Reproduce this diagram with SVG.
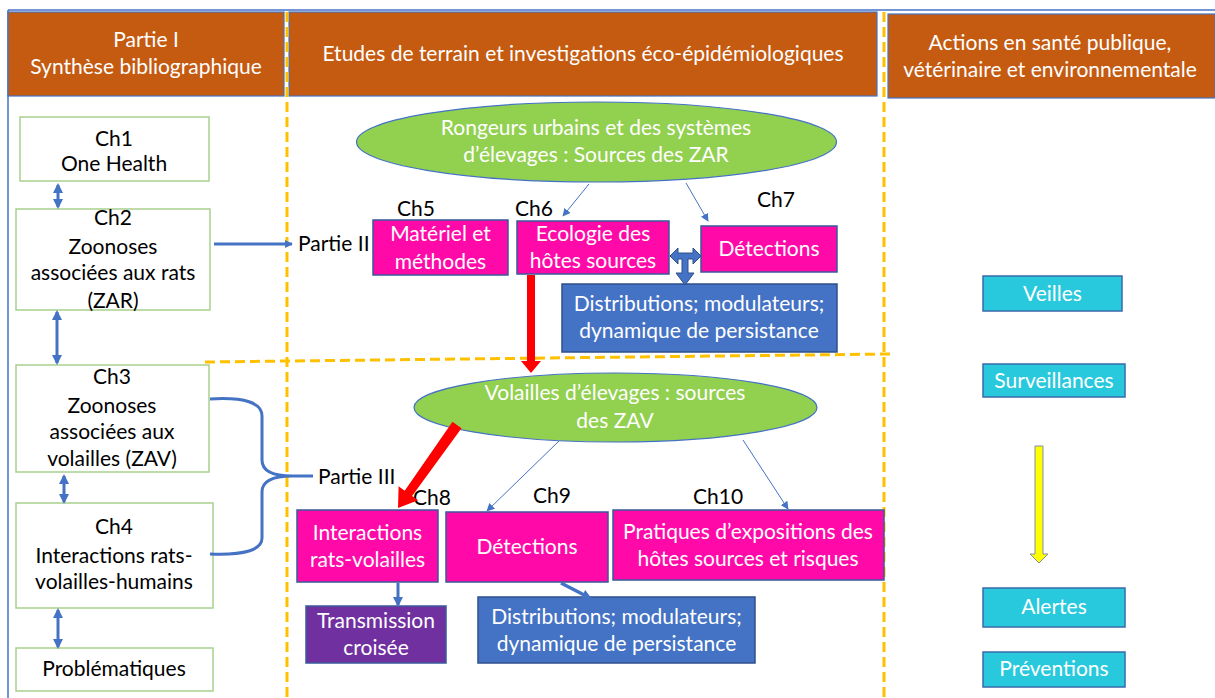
<svg xmlns="http://www.w3.org/2000/svg" width="1215" height="698" viewBox="0 0 1215 698">
<style>
text{font-family:Lato,"Open Sans","Liberation Sans",sans-serif;font-size:21px;text-anchor:middle}
.w{fill:#ffffff}
.k{fill:#000000}
.hdr{fill:#C55A11;stroke:#4472C4;stroke-width:1.2}
.gbox{fill:#ffffff;stroke:#A9D18E;stroke-width:1.5}
.mag{fill:#FF0AA9;stroke:#3A5A9A;stroke-width:1.5}
.blu{fill:#4472C4;stroke:#2F4F8A;stroke-width:1.5}
.pur{fill:#7030A0;stroke:#3A5A9A;stroke-width:1.5}
.cy{fill:#29C9DD;stroke:#3A6AA8;stroke-width:1.5}
.ell{fill:#92D050;stroke:#4472C4;stroke-width:1.2}
.dash{stroke:#FFC000;stroke-width:3;stroke-dasharray:10 5;fill:none}
.thin{stroke:#4472C4;stroke-width:1;fill:none}
.thick{stroke:#4472C4;stroke-width:3;fill:none}
</style>
<defs>
<marker id="ah" viewBox="0 0 10 10" refX="9" refY="5" markerWidth="8" markerHeight="8" markerUnits="userSpaceOnUse" orient="auto-start-reverse">
<path d="M0,0 L10,5 L0,10 Z" fill="#4472C4"/>
</marker>
<marker id="ahk" viewBox="0 0 10 10" refX="8" refY="5" markerWidth="10" markerHeight="10" markerUnits="userSpaceOnUse" orient="auto-start-reverse">
<path d="M0,0 L10,5 L0,10 Z" fill="#4472C4"/>
</marker>
</defs>
<rect width="1215" height="698" fill="#ffffff"/>
<g id="frame">
<line x1="8" y1="10" x2="1215" y2="10" stroke="#4472C4" stroke-width="1.5"/>
<line x1="8" y1="10" x2="8" y2="698" stroke="#4472C4" stroke-width="1.5"/>
</g>
<g id="header1"><rect class="hdr" x="8" y="12" width="276" height="84"/>
<text class="w" x="146" y="47">Partie I</text><text class="w" x="146" y="74">Synthèse bibliographique</text></g>
<g id="header2"><rect class="hdr" x="289" y="12" width="588" height="84"/>
<text class="w" x="583" y="61">Etudes de terrain et investigations éco-épidémiologiques</text></g>
<g id="header3"><rect class="hdr" x="888" y="14" width="327" height="84"/>
<text class="w" x="1050" y="50">Actions en santé publique,</text><text class="w" x="1050" y="77">vétérinaire et environnementale</text></g>
<g id="dividers">
<line class="dash" x1="287" y1="12" x2="287" y2="698"/>
<line class="dash" x1="884" y1="12" x2="884" y2="698"/>
<line class="dash" x1="205" y1="362" x2="890" y2="354"/>
</g>
<g id="ch1"><rect class="gbox" x="20" y="117" width="189" height="64"/>
<text class="k" x="114" y="146">Ch1</text><text class="k" x="114" y="171">One Health</text></g>
<g id="ch2"><rect class="gbox" x="16" y="209" width="194" height="101"/>
<text class="k" x="113" y="225">Ch2</text><text class="k" x="113" y="254">Zoonoses</text><text class="k" x="113" y="280">associées aux rats</text><text class="k" x="113" y="308">(ZAR)</text></g>
<g id="ch3"><rect class="gbox" x="16" y="365" width="193" height="107"/>
<text class="k" x="112" y="384">Ch3</text><text class="k" x="112" y="413">Zoonoses</text><text class="k" x="112" y="439">associées aux</text><text class="k" x="112" y="466">volailles (ZAV)</text></g>
<g id="ch4"><rect class="gbox" x="16" y="503" width="197" height="105"/>
<text class="k" x="114" y="534">Ch4</text><text class="k" x="114" y="563">Interactions rats-</text><text class="k" x="114" y="589">volailles-humains</text></g>
<g id="problematiques"><rect class="gbox" x="16" y="648" width="197" height="43"/>
<text class="k" x="114" y="676">Problématiques</text></g>
<g id="partie2"><text class="k" x="298" y="251" style="text-anchor:start">Partie II</text></g>
<g id="partie3"><text class="k" x="318" y="484" style="text-anchor:start">Partie III</text></g>
<g id="ell1"><ellipse class="ell" cx="596.5" cy="142" rx="240" ry="40"/>
<text class="w" x="596" y="135">Rongeurs urbains et des systèmes</text><text class="w" x="596" y="162">d’élevages : Sources des ZAR</text></g>
<g id="labels">
<text class="k" x="397" y="216" style="text-anchor:start">Ch5</text>
<text class="k" x="515" y="216" style="text-anchor:start">Ch6</text>
<text class="k" x="757" y="207" style="text-anchor:start">Ch7</text>
<text class="k" x="413" y="505" style="text-anchor:start">Ch8</text>
<text class="k" x="533" y="503" style="text-anchor:start">Ch9</text>
<text class="k" x="693" y="504" style="text-anchor:start">Ch10</text>
</g>
<g id="ch5box"><rect class="mag" x="373" y="220" width="135" height="55"/>
<text class="w" x="440.5" y="241">Matériel et</text><text class="w" x="440.5" y="269">méthodes</text></g>
<g id="ch6box"><rect class="mag" x="517" y="221" width="152" height="53"/>
<text class="w" x="593" y="241">Ecologie des</text><text class="w" x="593" y="268">hôtes sources</text></g>
<g id="ch7box"><rect class="mag" x="701" y="226" width="136" height="46"/>
<text class="w" x="769" y="256">Détections</text></g>
<g id="dist1"><rect class="blu" x="562" y="284" width="275" height="68"/>
<text class="w" x="699" y="311">Distributions; modulateurs;</text><text class="w" x="699" y="338">dynamique de persistance</text></g>
<g id="ell2"><ellipse class="ell" cx="615.5" cy="407.5" rx="201.5" ry="34.5"/>
<text class="w" x="615" y="400">Volailles d’élevages : sources</text><text class="w" x="615" y="428">des ZAV</text></g>
<g id="ch8box"><rect class="mag" x="297" y="510" width="141" height="72"/>
<text class="w" x="367.5" y="540">Interactions</text><text class="w" x="367.5" y="567">rats-volailles</text></g>
<g id="ch9box"><rect class="mag" x="446" y="512" width="162" height="70"/>
<text class="w" x="527" y="554">Détections</text></g>
<g id="ch10box"><rect class="mag" x="613" y="510" width="271" height="70"/>
<text class="w" x="748" y="539">Pratiques d’expositions des</text><text class="w" x="748" y="566">hôtes sources et risques</text></g>
<g id="transmission"><rect class="pur" x="306" y="606" width="140" height="57"/>
<text class="w" x="376" y="628">Transmission</text><text class="w" x="376" y="655">croisée</text></g>
<g id="dist2"><rect class="blu" x="478" y="597" width="277" height="66"/>
<text class="w" x="616.5" y="624">Distributions; modulateurs;</text><text class="w" x="616.5" y="651">dynamique de persistance</text></g>
<g id="veilles"><rect class="cy" x="983" y="276" width="139" height="35"/><text class="w" x="1052.5" y="301">Veilles</text></g>
<g id="surveillances"><rect class="cy" x="983" y="364" width="142" height="33"/><text class="w" x="1054" y="388">Surveillances</text></g>
<g id="alertes"><rect class="cy" x="983" y="588" width="142" height="39"/><text class="w" x="1054" y="614">Alertes</text></g>
<g id="preventions"><rect class="cy" x="983" y="652" width="142" height="35"/><text class="w" x="1054" y="676">Préventions</text></g>
<g id="connectors">
<line class="thick" x1="58" y1="185" x2="58" y2="207" marker-start="url(#ahk)" marker-end="url(#ahk)"/>
<line class="thick" x1="57" y1="312" x2="57" y2="363" marker-start="url(#ahk)" marker-end="url(#ahk)"/>
<line class="thick" x1="64" y1="476" x2="64" y2="502" marker-start="url(#ahk)" marker-end="url(#ahk)"/>
<line class="thick" x1="58" y1="610" x2="58" y2="647" marker-start="url(#ahk)" marker-end="url(#ahk)"/>
<line class="thick" x1="214" y1="244" x2="292" y2="244" marker-end="url(#ah)"/>
<path class="thick" d="M210,399 Q262,396 262,416 L262,460 Q262,476 292,476 L313,476 M292,476 Q262,476 262,492 L262,538 Q262,556 210,554"/>
<line class="thin" x1="589" y1="184" x2="563" y2="216" marker-end="url(#ah)"/>
<line class="thin" x1="686" y1="183" x2="708" y2="221" marker-end="url(#ah)"/>
<line class="thin" x1="559" y1="441" x2="487" y2="511" marker-end="url(#ah)"/>
<line class="thin" x1="743" y1="440" x2="788" y2="509" marker-end="url(#ah)"/>
<line class="thick" x1="398" y1="583" x2="398" y2="605" marker-end="url(#ahk)"/>
<line stroke="#4472C4" stroke-width="3.5" x1="561" y1="583" x2="590" y2="598" marker-end="url(#ahk)"/>
<polygon fill="#4472C4" stroke="#2F4F8A" stroke-width="1" points="670,256 678,248 678,253 693,253 693,248 701,256 693,264 693,259 688,259 688,273 694,273 685,285 676,273 682,273 682,259 678,259 678,264"/>
<polygon fill="#FF0000" points="527,275 535,275 535,361 541,361 531,373 521,361 527,361"/>
<polygon fill="#FF0000" points="452.5,421.8 461.5,428.2 412.1,495.9 418.2,500.3 398,508 398.6,486.3 404.7,490.7"/>
<polygon fill="#FFFF00" stroke="#7F8FA8" stroke-width="1" points="1035,446 1043,446 1043,554 1048,554 1039,563 1030,554 1035,554"/>
</g>
</svg>
